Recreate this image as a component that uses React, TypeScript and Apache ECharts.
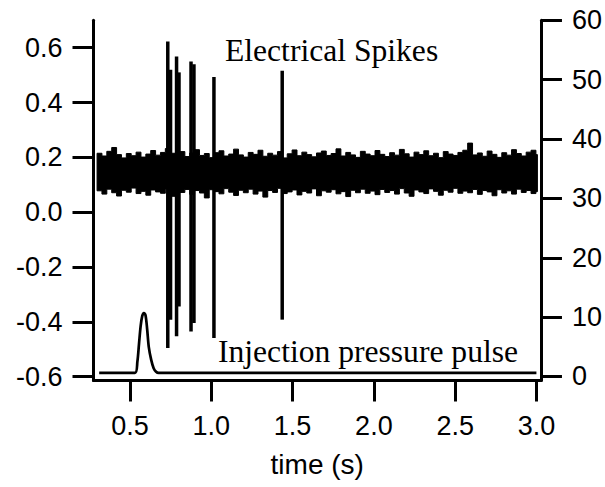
import React, { useEffect, useRef } from "react";
import * as echarts from "echarts";

// ---- data ----
const xTickValues = [0.5, 1.0, 1.5, 2.0, 2.5, 3.0];
const leftTickValues = [-0.6, -0.4, -0.2, 0.0, 0.2, 0.4, 0.6];
const rightTickValues = [0, 10, 20, 30, 40, 50, 60];

// noise trace envelope (left axis), sampled every 0.03 s from 0.297 s
const noiseStart = 0.297;
const noiseStep = 0.03;
const noiseUpper = [
  0.215, 0.205, 0.222, 0.236, 0.21, 0.198, 0.214, 0.206, 0.219, 0.201,
  0.212, 0.225, 0.208, 0.218, 0.232, 0.215, 0.209, 0.221, 0.203, 0.216,
  0.228, 0.207, 0.214, 0.199, 0.217, 0.224, 0.205, 0.212, 0.23, 0.209,
  0.201, 0.218, 0.211, 0.226, 0.204, 0.215, 0.208, 0.221, 0.198, 0.213,
  0.227, 0.206, 0.219, 0.21, 0.202, 0.216, 0.223, 0.207, 0.214, 0.231,
  0.205, 0.218, 0.209, 0.2, 0.222, 0.212, 0.206, 0.225, 0.211, 0.203,
  0.217, 0.208, 0.229, 0.213, 0.201, 0.219, 0.21, 0.224, 0.206, 0.215,
  0.199, 0.221, 0.212, 0.207, 0.218, 0.226, 0.252, 0.209, 0.216, 0.204,
  0.223, 0.211, 0.2, 0.217, 0.208, 0.228, 0.214, 0.205, 0.219, 0.226, 0.21,
];
const noiseLower = [
  0.078, 0.066, 0.084, 0.071, 0.059, 0.08, 0.073, 0.088, 0.068, 0.076,
  0.062, 0.081, 0.074, 0.069, 0.085, 0.058, 0.077, 0.072, 0.083, 0.065,
  0.079, 0.07, 0.052, 0.082, 0.075, 0.067, 0.086, 0.073, 0.061, 0.08,
  0.071, 0.084, 0.066, 0.077, 0.055, 0.079, 0.072, 0.087, 0.068, 0.074,
  0.081, 0.063, 0.076, 0.07, 0.085, 0.06, 0.078, 0.073, 0.082, 0.067,
  0.075, 0.057, 0.08, 0.071, 0.084, 0.069, 0.077, 0.064, 0.083, 0.072,
  0.079, 0.066, 0.086, 0.07, 0.058, 0.081, 0.074, 0.068, 0.085, 0.076,
  0.062, 0.08, 0.073, 0.087, 0.069, 0.077, 0.071, 0.083, 0.065, 0.079,
  0.074, 0.06, 0.082, 0.07, 0.078, 0.066, 0.084, 0.072, 0.079, 0.068, 0.075,
];

// electrical spikes (left axis)
const spikeTimes = [0.732, 0.749, 0.786, 0.801, 0.875, 0.893, 1.016, 1.436];
const spikeTops = [0.623, 0.52, 0.568, 0.51, 0.55, 0.54, 0.493, 0.516];
const spikeBottoms = [-0.495, -0.392, -0.453, -0.344, -0.435, -0.404, -0.459, -0.392];

// injection pressure pulse (right axis)
const pulseTimes = [0.31, 0.53, 0.545, 0.555, 0.565, 0.575, 0.585, 0.595, 0.605, 0.615, 0.63, 0.645, 0.66, 0.675, 3.0];
const pulseValues = [0.6, 0.6, 2.5, 5.5, 8.5, 10.2, 10.7, 10.3, 8.0, 5.0, 2.8, 1.4, 0.8, 0.6, 0.6];

const SANS = "Liberation Sans";
const SERIF = "Liberation Serif";

export default function App() {
  const ref = useRef<HTMLDivElement>(null);

  useEffect(() => {
    if (!ref.current) return;
    const chart = echarts.init(ref.current, undefined, { renderer: "svg" });

    const noiseTimes = noiseUpper.map((_, i) => noiseStart + i * noiseStep);
    const spikeData = spikeTimes.map((t, i) => [t, spikeBottoms[i], spikeTops[i]]);
    const pulseData = pulseTimes.map((t, i) => [t, pulseValues[i]]);

    const axisLineStyle = { color: "#000", width: 3 };
    const labelBase = { color: "#000", fontSize: 27, fontFamily: SANS };

    chart.setOption({
      animation: false,
      backgroundColor: "#fff",
      grid: { left: 93.5, right: 63.7, top: 20.3, bottom: 106.5 },
      xAxis: {
        type: "value",
        min: 0.275,
        max: 3.028,
        axisLine: { show: true, onZero: false, lineStyle: axisLineStyle },
        axisTick: { show: true, inside: false, length: 21, lineStyle: axisLineStyle, customValues: xTickValues },
        axisLabel: { ...labelBase, margin: 32, customValues: xTickValues, formatter: (v: number) => v.toFixed(1) },
        splitLine: { show: false },
        name: "time (s)",
        nameLocation: "middle",
        nameGap: 70,
        nameTextStyle: { color: "#000", fontSize: 28, fontFamily: SANS },
      },
      yAxis: [
        {
          type: "value",
          position: "left",
          min: -0.614,
          max: 0.7,
          axisLine: { show: true, onZero: false, lineStyle: axisLineStyle },
          axisTick: { show: true, inside: false, length: 21, lineStyle: axisLineStyle, customValues: leftTickValues },
          axisLabel: { ...labelBase, margin: 31, customValues: leftTickValues, formatter: (v: number) => v.toFixed(1) },
          splitLine: { show: false },
        },
        {
          type: "value",
          position: "right",
          min: -0.674,
          max: 60,
          axisLine: { show: true, onZero: false, lineStyle: axisLineStyle },
          axisTick: { show: true, inside: false, length: 21, lineStyle: axisLineStyle, customValues: rightTickValues },
          axisLabel: { ...labelBase, margin: 31, customValues: rightTickValues, formatter: (v: number) => String(v) },
          splitLine: { show: false },
        },
      ],
      series: [
        {
          type: "custom",
          name: "noise",
          yAxisIndex: 0,
          data: [[noiseStart, noiseUpper[0], noiseLower[0]]],
          encode: { x: 0, y: [1, 2] },
          renderItem: (params: any, api: any) => {
            // stepped envelope: each sample holds for one sampling interval
            const pts: number[][] = [];
            const n = noiseTimes.length;
            for (let i = 0; i < n; i++) {
              const t0 = noiseTimes[i];
              const t1 = i < n - 1 ? noiseTimes[i + 1] : t0 + noiseStep * 0.3;
              pts.push(api.coord([t0, noiseUpper[i]]));
              pts.push(api.coord([t1, noiseUpper[i]]));
            }
            for (let i = n - 1; i >= 0; i--) {
              const t0 = noiseTimes[i];
              const t1 = i < n - 1 ? noiseTimes[i + 1] : t0 + noiseStep * 0.3;
              pts.push(api.coord([t1, noiseLower[i]]));
              pts.push(api.coord([t0, noiseLower[i]]));
            }
            return {
              type: "polygon",
              shape: { points: pts },
              style: { fill: "#000", stroke: "#000", lineWidth: 1 },
            };
          },
          z: 2,
        },
        {
          type: "custom",
          name: "spikes",
          yAxisIndex: 0,
          data: spikeData,
          encode: { x: 0, y: [1, 2] },
          renderItem: (params: any, api: any) => {
            const p1 = api.coord([api.value(0), api.value(1)]);
            const p2 = api.coord([api.value(0), api.value(2)]);
            return {
              type: "line",
              shape: { x1: p1[0], y1: p1[1], x2: p2[0], y2: p2[1] },
              style: { stroke: "#000", lineWidth: 3.5 },
            };
          },
          z: 3,
        },
        {
          type: "line",
          name: "pulse",
          yAxisIndex: 1,
          data: pulseData,
          smooth: 0.3,
          showSymbol: false,
          symbol: "none",
          lineStyle: { color: "#000", width: 2.7 },
          z: 3,
        },
      ],
      graphic: [
        {
          type: "text",
          x: 225,
          y: 50.6,
          z: 10,
          style: {
            text: "Electrical Spikes",
            font: `31.6px "${SERIF}"`,
            fill: "#000",
            align: "left",
            verticalAlign: "middle",
            textAlign: "left",
            textVerticalAlign: "middle",
          },
        },
        {
          type: "text",
          x: 218,
          y: 351,
          z: 10,
          style: {
            text: "Injection pressure pulse",
            font: `31.6px "${SERIF}"`,
            fill: "#000",
            align: "left",
            verticalAlign: "middle",
            textAlign: "left",
            textVerticalAlign: "middle",
          },
        },
      ],
    });

    return () => chart.dispose();
  }, []);

  return (
    <div
      ref={ref}
      style={{ position: "fixed", left: 0, top: 0, width: 605, height: 487, background: "#fff" }}
    />
  );
}
